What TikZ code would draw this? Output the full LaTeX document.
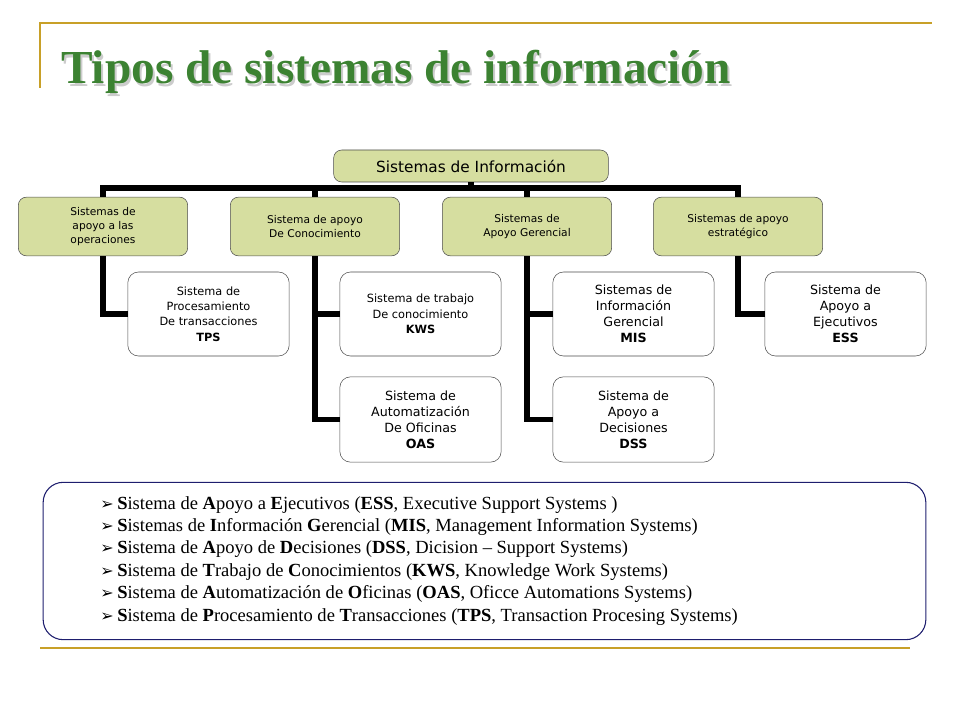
\documentclass[tikz,border=0pt]{standalone}
\usepackage{fontspec}
\setmainfont{Liberation Serif}
\newfontfamily\boxfont{DejaVu Sans}
\definecolor{gold}{RGB}{200,160,40}
\definecolor{lgreen}{RGB}{214,222,160}
\definecolor{tgreen}{RGB}{60,130,50}
\definecolor{navy}{RGB}{30,30,110}
\tikzset{
 gbox/.style={draw=black!70,fill=lgreen,rounded corners=6pt,align=center,font=\boxfont\fontsize{8}{10.5}\selectfont,inner sep=0pt},
 wbox/.style={draw=black!70,fill=white,rounded corners=8pt,align=center,font=\boxfont\fontsize{8.5}{11.5}\selectfont,inner sep=0pt},
 conn/.style={line width=4pt,black},
 deco/.style={gold,line width=1.5pt},
 ttl/.style={anchor=base west,inner sep=0pt,font=\fontsize{35.5}{40}\selectfont\bfseries}
}
\begin{document}
\begin{tikzpicture}[x=0.75pt,y=-0.75pt]
\useasboundingbox (0,0) rectangle (960,720);
\draw[deco] (40,88) -- (40,23) -- (932,23);
\draw[deco] (40,648) -- (910,648);
\node[ttl,text=black!20] (titleshadow) at (63,86.5) {Tipos de sistemas de información};
\node[ttl,text=tgreen] (title) at (61,84) {Tipos de sistemas de información};
% root
\node[gbox,minimum width=206pt,minimum height=24pt,font=\boxfont\fontsize{11.5}{13}\selectfont] (root) at (471,166) {Sistemas de Información};
% level 1
\foreach \n/\x/\t in {a/103/{Sistemas de\\apoyo a las\\operaciones},b/315/{Sistema de apoyo\\De Conocimiento},c/527/{Sistemas de\\Apoyo Gerencial},d/738/{Sistemas de apoyo\\estratégico}}
  \node[gbox,minimum width=127pt,minimum height=44pt] (\n) at (\x,226.5) {\t};
% children
\node[wbox,minimum width=121pt,minimum height=63pt] (tps) at (208.5,314) {Sistema de\\Procesamiento\\De transacciones\\\textbf{TPS}};
\node[wbox,minimum width=121pt,minimum height=63pt] (kws) at (420.5,314) {Sistema de trabajo\\De conocimiento\\\textbf{KWS}};
\node[wbox,minimum width=121pt,minimum height=64pt,font=\boxfont\fontsize{9.5}{12}\selectfont] (oas) at (420.5,419.5) {Sistema de\\Automatización\\De Oficinas\\\textbf{OAS}};
\node[wbox,minimum width=121pt,minimum height=63pt,font=\boxfont\fontsize{9.5}{12}\selectfont] (mis) at (633.5,314) {Sistemas de\\Información\\Gerencial\\\textbf{MIS}};
\node[wbox,minimum width=121pt,minimum height=64pt,font=\boxfont\fontsize{9.5}{12}\selectfont] (dss) at (633.5,419.5) {Sistema de\\Apoyo a\\Decisiones\\\textbf{DSS}};
\node[wbox,minimum width=121pt,minimum height=63pt,font=\boxfont\fontsize{9.5}{12}\selectfont] (ess) at (845.5,314) {Sistema de\\Apoyo a\\Ejecutivos\\\textbf{ESS}};
% connectors
\coordinate (bar) at (471,188);
\draw[conn] (root.south) -- (bar);
\draw[conn] (a.north) |- (bar) -| (d.north);
\draw[conn] (b.north) -- (b.north |- bar);
\draw[conn] (c.north) -- (c.north |- bar);
\draw[conn] (a.south) |- (tps.west);
\draw[conn] (b.south) |- (kws.west);
\draw[conn] (b.south) |- (oas.west);
\draw[conn] (c.south) |- (mis.west);
\draw[conn] (c.south) |- (dss.west);
\draw[conn] (d.south) |- (ess.west);
% bottom box
\node[draw=navy,line width=0.8pt,rounded corners=15pt,minimum width=662pt,minimum height=118pt,inner sep=0pt] (legend) at (484.5,561) {};
\foreach \i/\t in {0/{\textbf{S}istema de \textbf{A}poyo a \textbf{E}jecutivos (\textbf{ESS}, Executive Support Systems )},
  1/{\textbf{S}istemas de \textbf{I}nformación \textbf{G}erencial (\textbf{MIS}, Management Information Systems)},
  2/{\textbf{S}istema de \textbf{A}poyo de \textbf{D}ecisiones (\textbf{DSS}, Dicision – Support Systems)},
  3/{\textbf{S}istema de \textbf{T}rabajo de \textbf{C}onocimientos (\textbf{KWS}, Knowledge Work Systems)},
  4/{\textbf{S}istema de \textbf{A}utomatización de \textbf{O}ficinas (\textbf{OAS}, Oficce Automations Systems)},
  5/{\textbf{S}istema de \textbf{P}rocesamiento de \textbf{T}ransacciones (\textbf{TPS}, Transaction Procesing Systems)}} {
  \node[anchor=base west,inner sep=0pt,font=\boxfont\fontsize{12}{14}\selectfont] (ar\i) at (100,{509+22.4*\i}) {➢};
  \node[anchor=base west,inner sep=0pt,font=\fontsize{13.9}{15}\selectfont] (li\i) at (117,{509+22.4*\i}) {\t};
}
\end{tikzpicture}
\end{document}
